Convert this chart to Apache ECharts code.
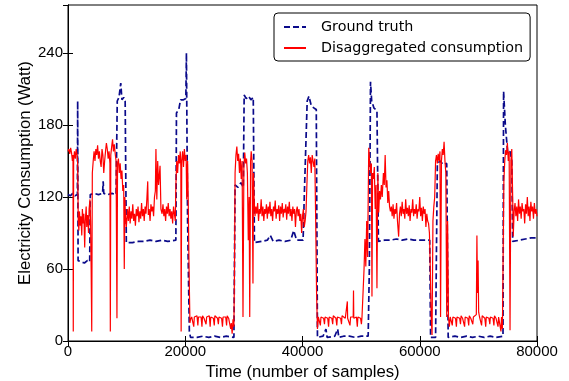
<!DOCTYPE html>
<html>
<head>
<meta charset="utf-8">
<script src="https://cdn.jsdelivr.net/npm/echarts@6/dist/echarts.min.js"></script>
<style>
html,body{margin:0;padding:0;background:#fff;}
#chart{width:569px;height:381px;}
</style>
</head>
<body>
<div id="chart"></div>
<script>
const xTicks = [0, 20000, 40000, 60000, 80000];
const yTicks = [0, 60, 120, 180, 240];
const seriesNames = ['Ground truth', 'Disaggregated consumption'];

const groundTruth = [
[0,122],[400,121],[800,123],[1200,121],[1600,122],[1650,200],[1720,67],
[2200,66],[2800,65],[3300,67],[3700,66],
[3800,122],[4500,123],[5200,122],[5900,123],[6000,133],[6100,123],[6800,122],[7500,123],[8200,122],
[8400,200],[8700,203],[9000,215],[9200,201],[9500,203],[9750,200],
[9950,82],[11000,82],[12000,83],[13000,83],[14000,84],[15000,83],[16000,84],[17000,83],[18400,84],
[18500,190],[18900,193],[19200,201],[19700,201],[20100,202],[20200,240],[20400,100],[20700,8],[20900,3],
[22000,3],[23000,4],[24000,3],[25000,4],[26000,3],[27000,4],[28300,3],
[28500,130],[29000,128],[29500,132],[29900,128],
[30050,205],[30400,202],[30800,204],[31200,201],[31600,203],
[31800,82],[33000,83],[34000,84],[34500,88],[35000,83],[36000,84],[37000,83],[38000,84],[38500,92],[39000,84],[40100,84],
[40300,120],[40800,200],[41100,204],[41500,196],[42000,194],[42350,193],
[42550,3],[43500,4],[44000,10],[44200,3],[45500,4],[46000,10],[46200,3],[47000,4],[48000,4],[49000,3],[50000,4],[51200,4],
[51400,60],[51600,216],[51800,200],[52200,194],[52700,192],
[52950,83],[54000,84],[55000,84],[56000,85],[57000,84],[58000,85],[59000,84],[60000,84],[61000,84],[61700,84],
[61850,3],[62700,3],
[63000,148],[63500,150],[64000,147],[64600,148],
[64850,3],[66000,4],[67000,3],[68000,4],[69000,3],[70000,4],[71000,3],[72000,4],[73000,3],[74200,4],
[74300,208],[74600,180],[75000,157],[75400,158],[75700,150],
[75850,83],[77000,84],[78000,85],[79000,86],[80000,86]
];

const disaggregated = [
[0,158],[150,160],[300,156],[450,161],[600,157],[750,150],[850,155],[900,8],[960,150],[1100,158],[1250,152],[1400,160],[1550,155],[1650,148],
[1750,100],[1850,92],[1950,108],[2100,96],[2200,104],[2350,88],[2450,110],[2600,98],[2700,106],[2850,78],[2950,100],[3100,112],[3200,95],[3350,105],[3500,90],[3600,110],[3750,118],[3850,100],[3950,60],[4050,8],
[4150,140],[4300,150],[4450,158],[4600,150],[4750,160],[4900,155],[5050,163],[5200,152],[5350,158],[5500,150],[5650,145],[5800,160],[5950,155],[6100,140],[6250,150],[6400,158],[6550,165],[6700,160],[6850,152],[7000,158],[7150,148],[7220,8],[7300,155],
[7450,162],[7600,168],[7750,158],[7900,164],[8050,156],[8200,150],[8350,19],[8450,148],
[8600,152],[8750,140],[8900,148],[9050,135],[9200,142],[9350,125],[9500,130],[9600,60],[9700,120],[9800,104],
[9950,95],[10150,110],[10300,100],[10450,112],[10600,98],[10750,108],[10900,102],[11050,114],[11200,100],[11350,106],[11500,96],[11650,110],[11800,104],[11950,112],[12100,99],[12250,108],[12400,102],[12550,115],[12700,104],[12850,110],[13000,100],[13150,112],[13300,106],[13450,118],[13600,133],[13700,105],[13850,110],[14000,100],[14150,114],[14300,108],[14450,112],[14600,104],[14750,120],[14900,125],[15000,160],[15150,118],[15300,150],[15450,130],[15700,146],[15850,110],[16050,106],[16200,114],[16350,104],[16500,110],[16650,100],[16800,112],[16950,106],[17100,115],[17250,104],[17400,110],[17550,102],[17700,108],[17850,98],[18000,112],[18150,106],[18300,100],
[18400,130],[18550,150],[18700,140],[18850,155],[19000,148],[19150,158],[19250,145],[19300,8],[19400,150],[19550,158],[19700,145],[19850,160],[20000,150],[20150,155],[20250,118],[20400,150],[20500,120],[20650,60],[20800,15],
[20900,18],[21100,20],[21300,19],[21450,12],[21550,20],[21800,19],[22000,21],[22150,13],[22250,20],[22500,19],[22700,20],[22850,12],[22950,21],[23200,19],[23400,20],[23550,14],[23650,20],[23900,19],[24100,21],[24250,12],[24350,20],[24600,20],[24800,19],[24950,13],[25050,21],[25300,20],[25500,19],[25650,14],[25750,20],[26000,21],[26200,19],[26350,12],[26450,20],[26700,19],[26900,20],[27050,13],[27150,21],[27400,19],[27600,20],[27750,10],[27850,15],[28000,6],[28150,18],[28300,12],
[28400,60],[28500,140],[28650,155],[28800,162],[28950,150],[29100,156],[29250,140],[29400,152],[29550,135],[29700,150],[29850,20],[30000,145],[30150,157],[30300,148],[30450,152],[30600,140],[30750,84],[30900,120],[31000,20],[31150,150],[31250,158],[31400,150],[31550,48],[31650,140],[31750,118],
[31900,104],[32050,112],[32200,106],[32350,115],[32500,100],[32650,110],[32800,106],[32950,118],[33100,104],[33250,112],[33400,100],[33550,110],[33700,106],[33850,114],[34000,102],[34150,112],[34300,106],[34450,116],[34600,104],[34750,110],[34900,100],[35050,112],[35200,108],[35350,117],[35500,102],[35650,110],[35800,106],[35950,113],[36100,100],[36250,112],[36400,106],[36550,115],[36700,103],[36850,110],[37000,107],[37150,114],[37300,101],[37450,112],[37600,106],[37750,116],[37900,104],[38050,110],[38200,100],[38350,112],[38500,106],[38650,110],[38800,95],[38950,108],[39100,112],[39250,104],[39400,110],[39550,100],[39700,106],[39850,90],[40000,104],[40150,110],[40300,95],[40450,100],[40600,108],
[40750,130],[40900,150],[41050,155],[41200,148],[41350,153],[41500,140],[41650,155],[41800,150],[41950,145],[42100,152],[42250,100],[42400,40],
[42550,10],[42700,20],[42900,19],[43050,13],[43150,20],[43400,20],[43600,19],[43750,14],[43850,20],[44100,21],[44300,19],[44450,12],[44550,20],[44800,20],[45000,19],[45150,14],[45250,21],[45500,20],[45700,19],[45850,13],[45950,20],[46200,20],[46500,19],[46650,14],[46750,21],[47000,20],[47300,19],[47600,20],[47650,33],[47700,19],[47900,20],[48100,13],[48200,20],[48400,21],[48650,20],[48700,42],[48750,19],[49000,19],[49200,20],[49350,12],[49450,20],[49700,21],[49900,19],[50050,14],[50150,20],[50400,20],
[50500,60],[50650,85],[50800,62],[50950,100],[51100,70],[51300,161],[51450,150],[51600,140],[51750,148],[51850,37],[51950,140],[52100,135],[52250,145],[52400,110],[52550,130],[52700,44],[52850,140],[53000,107],[53150,125],[53300,118],[53450,130],[53600,120],[53800,140],[53950,130],[54100,155],[54250,128],[54400,134],[54550,115],[54700,125],[54850,112],
[55000,108],[55150,112],[55300,104],[55450,114],[55600,102],[55750,110],[55900,106],[56050,115],[56200,100],[56400,87],[56550,106],[56700,112],[56850,104],[57000,116],[57150,106],[57300,110],[57450,102],[57600,118],[57750,106],[57900,111],[58050,104],[58200,113],[58350,100],[58500,110],[58650,107],[58800,118],[58950,104],[59100,110],[59250,106],[59400,114],[59550,102],[59700,110],[59850,108],[60000,120],[60150,104],[60300,111],[60450,100],[60600,112],[60750,106],[60900,110],[61050,95],[61200,106],[61350,100],
[61500,98],[61650,90],[61800,60],[61950,20],[62100,5],[62250,100],[62400,112],
[62550,120],[62700,150],[62850,155],[63000,148],[63150,156],[63300,150],[63450,158],[63550,20],[63700,150],[63850,160],[64000,155],[64150,166],[64300,150],[64450,140],[64600,20],[64750,100],[64900,20],
[65050,12],[65200,20],[65400,19],[65550,13],[65650,20],[65900,21],[66100,19],[66250,12],[66350,20],[66600,20],[66800,19],[66950,14],[67050,21],[67300,19],[67500,20],[67650,12],[67750,20],[68000,20],[68200,19],[68350,13],[68450,21],[68700,19],[68900,20],[69050,14],[69150,20],[69400,19],[69650,22],[69750,88],[69850,40],[69950,67],[70050,24],[70200,20],[70400,19],[70550,13],[70650,21],[70900,20],[71100,19],[71250,12],[71350,20],[71600,21],[71800,19],[71950,14],[72050,20],[72300,20],[72500,19],[72650,13],[72750,21],[73000,19],[73200,20],[73350,12],[73450,20],[73700,19],[73850,8],[73950,20],[74100,10],
[74200,60],[74350,133],[74500,150],[74650,159],[74800,155],[74950,165],[75100,150],[75250,158],[75400,9],[75550,150],[75700,160],[75850,120],[75950,87],
[76100,108],[76250,115],[76400,104],[76550,112],[76700,100],[76850,118],[77000,106],[77150,112],[77300,102],[77450,115],[77600,108],[77750,110],[77900,98],[78050,114],[78200,106],[78350,120],[78500,104],[78650,112],[78800,100],[78950,116],[79100,108],[79250,112],[79400,102],[79550,115],[79700,106],[79850,110],[80000,104]
];

const chart = echarts.init(document.getElementById('chart'), null, {renderer: 'canvas'});
const tickFont = {fontFamily: 'Liberation Sans', fontSize: 15, color: '#000'};
const titleFont = {fontFamily: 'Liberation Sans', fontSize: 16.7, color: '#000'};
const tickCommon = {show: true, inside: true, length: 5, lineStyle: {color: '#000', width: 1}};

chart.setOption({
  animation: false,
  backgroundColor: '#fff',
  grid: {left: 68, right: 32, top: 5, bottom: 40, containLabel: false, outerBoundsMode: 'none',
         show: true, borderColor: '#000', borderWidth: 1, backgroundColor: 'transparent'},
  legend: {
    orient: 'vertical', left: 274, top: 13,
    data: seriesNames,
    backgroundColor: '#fff',
    borderColor: '#000', borderWidth: 1, borderRadius: 4,
    padding: [6, 7, 5, 9],
    itemWidth: 22, itemHeight: 14, itemGap: 5,
    itemStyle: {opacity: 0, borderWidth: 0},
    textStyle: {fontFamily: 'DejaVu Sans', fontSize: 14.3, lineHeight: 16, color: '#000', padding: [0, 0, 0, 10]}
  },
  xAxis: [{
    type: 'value', min: xTicks[0], max: xTicks[xTicks.length - 1], interval: 20000,
    name: 'Time (number of samples)', nameLocation: 'middle', nameGap: 21,
    nameTextStyle: titleFont,
    axisLine: {show: true, onZero: false, lineStyle: {color: '#000', width: 1}},
    axisTick: tickCommon,
    axisLabel: Object.assign({margin: 3, formatter: v => String(v)}, tickFont),
    splitLine: {show: false}
  }, {
    type: 'value', position: 'top', min: xTicks[0], max: xTicks[xTicks.length - 1], interval: 20000,
    axisLine: {show: true, lineStyle: {color: '#000', width: 1}},
    axisTick: tickCommon, axisLabel: {show: false}, splitLine: {show: false}
  }],
  yAxis: [{
    type: 'value', min: 0, max: 280, interval: 60,
    name: 'Electricity Consumption (Watt)', nameLocation: 'middle', nameGap: 34,
    nameMoveOverlap: false,
    nameTextStyle: titleFont,
    axisLine: {show: true, onZero: false, lineStyle: {color: '#000', width: 1}},
    axisTick: tickCommon,
    axisLabel: Object.assign({margin: 5, showMaxLabel: false, formatter: v => yTicks.indexOf(v) >= 0 ? String(v) : ''}, tickFont),
    splitLine: {show: false}
  }, {
    type: 'value', position: 'right', min: 0, max: 280, interval: 60,
    axisLine: {show: true, lineStyle: {color: '#000', width: 1}},
    axisTick: tickCommon, axisLabel: {show: false}, splitLine: {show: false}
  }],
  series: [{
    name: seriesNames[0], type: 'line', data: groundTruth,
    showSymbol: false, symbol: 'none',
    lineStyle: {color: '#0a0a8a', width: 1.7, type: [6, 3]},
    itemStyle: {color: '#0a0a8a'},
    z: 2
  }, {
    name: seriesNames[1], type: 'line', data: disaggregated,
    showSymbol: false, symbol: 'none',
    lineStyle: {color: '#ff0000', width: 1.2},
    itemStyle: {color: '#ff0000'},
    z: 3
  }]
});
</script>
</body>
</html>
